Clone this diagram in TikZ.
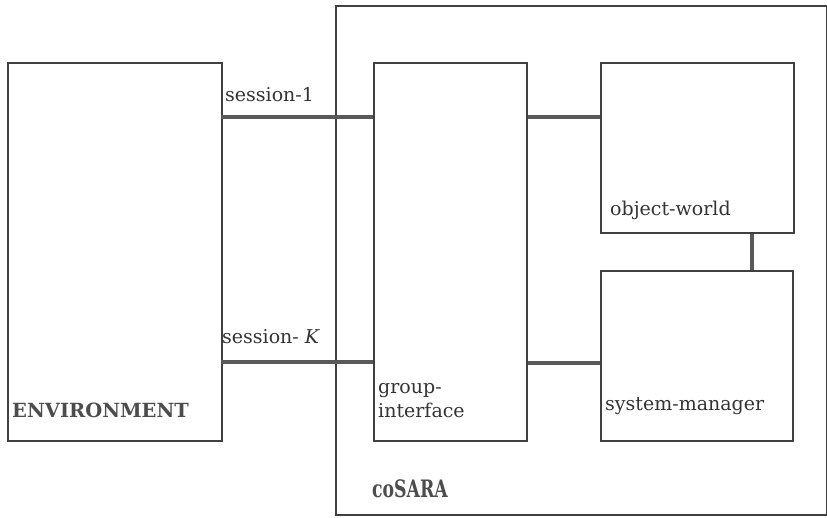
\documentclass[tikz,border=0pt]{standalone}
\usepackage{fontspec}
\setmainfont{DejaVu Serif}
\begin{document}
\begin{tikzpicture}[x=1pt,y=-1pt,
  box/.style={draw=black!75, line width=1.6pt, inner sep=0pt, anchor=north west},
  link/.style={draw=black!65, line width=3.6pt},
  lbl/.style={anchor=base west, inner sep=0pt, text=black!80, font=\fontsize{19}{22}\selectfont},
  blbl/.style={anchor=base west, inner sep=0pt, text=black!70, font=\fontsize{19.5}{22}\selectfont\bfseries}]
\useasboundingbox (0,0) rectangle (827,517);
\node[box, minimum width=491pt, minimum height=509pt] (cosara) at (335,5) {};
\node[box, minimum width=214pt, minimum height=378pt] (env) at (7,62) {};
\node[box, minimum width=153pt, minimum height=378pt] (gi) at (373,62) {};
\node[box, minimum width=193pt, minimum height=170pt] (ow) at (600,62) {};
\node[box, minimum width=192pt, minimum height=170pt] (sm) at (600,270) {};
\draw[link] (env.west |- 0,117) ++(214,0) coordinate (s1a) -- (gi.west |- s1a);
\draw[link] (env.west |- 0,362) ++(214,0) coordinate (ska) -- (gi.west |- ska);
\draw[link] (gi.east |- 0,117) coordinate (g1) -- (ow.west |- g1);
\draw[link] (gi.east |- 0,363) coordinate (g2) -- (sm.west |- g2);
\draw[link] (752,0 |- ow.south) coordinate (o1) -- (o1 |- sm.north);
\node[lbl] (t1) at (225,101) {session-1};
\node[lbl] (t2) at (222,343) {session- \textit{K}};
\node[blbl] (t3) at (12,417) {ENVIRONMENT};
\node[lbl] (t4) at (378,393) {group-};
\node[lbl] (t5) at (378,417) {interface};
\node[lbl] (t6) at (610,215) {object-world};
\node[lbl] (t7) at (605,410) {system-manager};
\node[blbl, font=\fontsize{24}{26}\selectfont\bfseries, xscale=0.72] (t8) at (372,497) {coSARA};
\end{tikzpicture}
\end{document}
